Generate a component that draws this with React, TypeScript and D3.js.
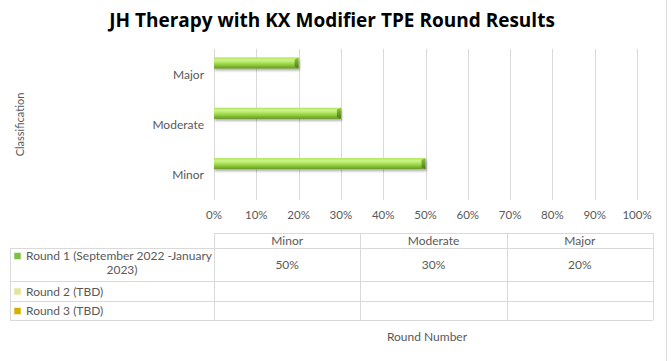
import React from "react";
import * as d3 from "d3";

const title = "JH Therapy with KX Modifier TPE Round Results";
const categories = ["Minor", "Moderate", "Major"];
const seriesNames = ["Round 1 (September 2022 -January 2023)", "Round 2 (TBD)", "Round 3 (TBD)"];
const round1 = [50, 30, 20];
const round2: (number | null)[] = [null, null, null];
const round3: (number | null)[] = [null, null, null];
const xTicks = [0, 10, 20, 30, 40, 50, 60, 70, 80, 90, 100];
const yAxisTitle = "Classification";
const xAxisTitle = "Round Number";

const seriesValues = [round1, round2, round3];
const seriesColors = ["#7cc142", "#e4e49a", "#d6b100"];

const W = 671;
const H = 361;
const plot = { left: 214, right: 637, top: 49, bottom: 200 };
const table = { left: 10, colStart: 214, right: 653, top: 233, header: 248, r1: 281, r2: 301, r3: 320 };
const FONT = "Lato, 'Open Sans', sans-serif";
const TITLE_FONT = "'Open Sans', Lato, sans-serif";

export default function App() {
  const x = d3.scaleLinear().domain([0, 100]).range([plot.left, plot.right]);
  const y = d3
    .scaleBand<string>()
    .domain([...categories].reverse())
    .range([plot.top, plot.bottom])
    .paddingInner(0)
    .paddingOuter(0);
  const inner = d3
    .scaleBand<string>()
    .domain(seriesNames)
    .range([0, y.bandwidth()])
    .paddingInner(0)
    .paddingOuter(0.75);

  const colX = d3
    .scaleBand<string>()
    .domain(categories)
    .range([table.colStart, table.right]);

  const rowTops = [table.header, table.r1, table.r2];
  const rowBottoms = [table.r1, table.r2, table.r3];
  const grid = "#d9d9d9";
  const textCol = "#595959";

  return (
    <svg width={W} height={H} style={{ position: "absolute", left: 0, top: 0, background: "#fff" }}>
      <defs>
        <linearGradient id="barGrad" x1="0" y1="0" x2="0" y2="1">
          <stop offset="0%" stopColor="#b0e45e" />
          <stop offset="25%" stopColor="#cdf588" />
          <stop offset="60%" stopColor="#9ad645" />
          <stop offset="100%" stopColor="#659824" />
        </linearGradient>
        <linearGradient id="capGrad" x1="0" y1="0" x2="0" y2="1">
          <stop offset="0%" stopColor="#8cc440" />
          <stop offset="100%" stopColor="#4f7a18" />
        </linearGradient>
        <filter id="shadow" x="-5%" y="-30%" width="110%" height="180%">
          <feDropShadow dx="1" dy="2" stdDeviation="1.2" floodColor="#000" floodOpacity="0.3" />
        </filter>
      </defs>
      <rect x={0} y={0} width={W} height={H} fill="#fff" />
      <line x1={666.5} x2={666.5} y1={0} y2={H} stroke={grid} />

      <text x={332} y={27} textAnchor="middle" fontFamily={TITLE_FONT} fontWeight="bold" fontSize={19} fill="#000">
        {title}
      </text>

      {xTicks.map((t) => (
        <g key={t}>
          <line x1={Math.round(x(t)) + 0.5} x2={Math.round(x(t)) + 0.5} y1={plot.top} y2={plot.bottom} stroke={grid} />
          <text x={x(t)} y={219} textAnchor="middle" fontFamily={FONT} fontSize={11.5} fill={textCol}>
            {t}%
          </text>
        </g>
      ))}

      {categories.map((c) => (
        <text
          key={c}
          x={204}
          y={(y(c) as number) + y.bandwidth() / 2 + 4.5}
          textAnchor="end"
          fontFamily={FONT}
          fontSize={12}
          fill={textCol}
        >
          {c}
        </text>
      ))}

      {seriesValues.map((vals, si) =>
        vals.map((v, ci) => {
          if (v == null) return null;
          const cat = categories[ci];
          const by = (y(cat) as number) + (inner(seriesNames[si]) as number);
          const bh = inner.bandwidth();
          const bw = x(v) - x(0);
          return (
            <g key={`${si}-${ci}`} filter="url(#shadow)">
              <rect x={x(0)} y={by} width={bw} height={bh} fill="url(#barGrad)" />
              <polygon
                points={`${x(v) - 4},${by + 2} ${x(v)},${by} ${x(v)},${by + bh} ${x(v) - 4},${by + bh - 2}`}
                fill="url(#capGrad)"
              />
            </g>
          );
        })
      )}

      <text
        transform={`translate(24,${(plot.top + plot.bottom) / 2}) rotate(-90)`}
        textAnchor="middle"
        fontFamily={FONT}
        fontSize={11}
        fill={textCol}
      >
        {yAxisTitle}
      </text>

      {/* data table */}
      <g stroke={grid} fill="none">
        <line x1={table.colStart} x2={table.right} y1={table.top + 0.5} y2={table.top + 0.5} />
        <line x1={table.left} x2={table.right} y1={table.header + 0.5} y2={table.header + 0.5} />
        <line x1={table.left} x2={table.right} y1={table.r1 + 0.5} y2={table.r1 + 0.5} />
        <line x1={table.left} x2={table.right} y1={table.r2 + 0.5} y2={table.r2 + 0.5} />
        <line x1={table.left} x2={table.right} y1={table.r3 + 0.5} y2={table.r3 + 0.5} />
        <line x1={table.left + 0.5} x2={table.left + 0.5} y1={table.header} y2={table.r3} />
        {categories.map((c) => (
          <line
            key={c}
            x1={Math.round(colX(c) as number) + 0.5}
            x2={Math.round(colX(c) as number) + 0.5}
            y1={table.top}
            y2={table.r3}
          />
        ))}
        <line x1={table.right + 0.5} x2={table.right + 0.5} y1={table.top} y2={table.r3} />
      </g>

      {categories.map((c) => (
        <text
          key={c}
          x={(colX(c) as number) + colX.bandwidth() / 2}
          y={(table.top + table.header) / 2 + 4.5}
          textAnchor="middle"
          fontFamily={FONT}
          fontSize={12}
          fill={textCol}
        >
          {c}
        </text>
      ))}

      {seriesValues.map((vals, si) =>
        vals.map((v, ci) =>
          v == null ? null : (
            <text
              key={`${si}-${ci}`}
              x={(colX(categories[ci]) as number) + colX.bandwidth() / 2}
              y={(rowTops[si] + rowBottoms[si]) / 2 + 4.5}
              textAnchor="middle"
              fontFamily={FONT}
              fontSize={12}
              fill={textCol}
            >
              {v}%
            </text>
          )
        )
      )}

      {seriesNames.map((name, si) => {
        const top = rowTops[si];
        const bottom = rowBottoms[si];
        const wrapped = si === 0;
        const firstY = wrapped ? top + 12 : (top + bottom) / 2 + 4.5;
        const line1 = wrapped ? "Round 1 (September 2022 -January" : name;
        return (
          <g key={name}>
            <rect x={14} y={firstY - 7.5} width={7} height={7} fill={seriesColors[si]} stroke="#fff" strokeWidth={0.5} />
            <text x={26} y={firstY} fontFamily={FONT} fontSize={12} fill={textCol}>
              {line1}
            </text>
            {wrapped && (
              <text x={122} y={firstY + 14} textAnchor="middle" fontFamily={FONT} fontSize={12} fill={textCol}>
                2023)
              </text>
            )}
          </g>
        );
      })}

      <text x={427} y={341} textAnchor="middle" fontFamily={FONT} fontSize={12} fill={textCol}>
        {xAxisTitle}
      </text>
    </svg>
  );
}
